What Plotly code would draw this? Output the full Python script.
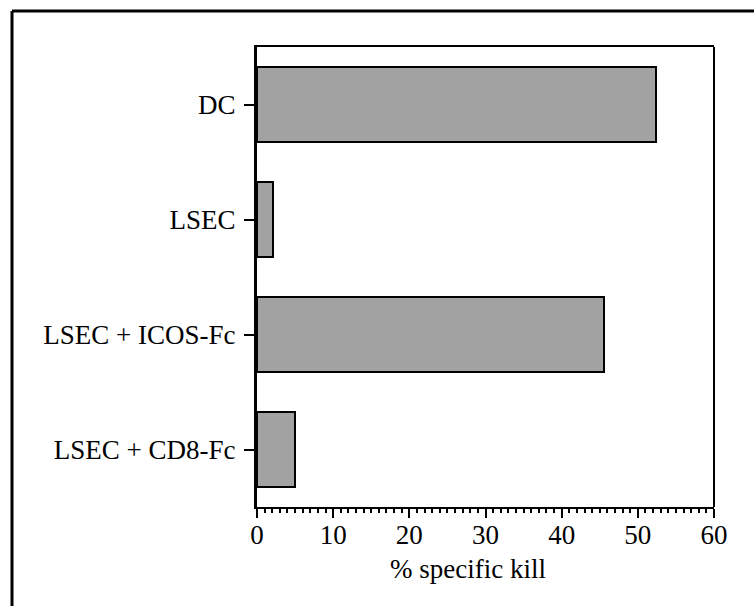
import plotly.graph_objects as go

categories = ["DC", "LSEC", "LSEC + ICOS-Fc", "LSEC + CD8-Fc"]
kill_values = [52.4, 2.1, 45.5, 5.0]
x_tick_values = [0, 10, 20, 30, 40, 50, 60]
x_title = "% specific kill"

FONT = "Liberation Serif, Times New Roman, serif"
FS = 27

fig = go.Figure(
    go.Bar(
        y=categories,
        x=kill_values,
        orientation="h",
        width=0.65,
        marker=dict(color="#a2a2a2", line=dict(color="black", width=2)),
    )
)

W, H = 754, 606
ml, mr, mt, mb = 257, 40, 47, 99
pw = W - ml - mr
ph = H - mt - mb

fig.update_layout(
    width=W,
    height=H,
    margin=dict(l=ml, r=mr, t=mt, b=mb, pad=0),
    paper_bgcolor="white",
    plot_bgcolor="white",
    showlegend=False,
    font=dict(family=FONT, size=FS, color="black"),
    bargap=0,
)

fig.update_xaxes(
    range=[0, 60],
    tickvals=x_tick_values,
    ticks="outside",
    ticklen=9,
    tickwidth=2,
    tickcolor="black",
    showline=True,
    linecolor="black",
    linewidth=2,
    mirror=True,
    showgrid=False,
    zeroline=False,
    tickfont=dict(family=FONT, size=FS, color="black"),
    ticklabelstandoff=-6,
    minor=dict(dtick=1, ticks="outside", ticklen=4, tickwidth=1.5, tickcolor="black", showgrid=False),
)

fig.update_yaxes(
    categoryorder="array",
    categoryarray=categories,
    autorange=False,
    range=[3.5, -0.5],
    ticks="outside",
    ticklen=10,
    tickwidth=2,
    tickcolor="black",
    showline=True,
    linecolor="black",
    linewidth=3,
    mirror=False,
    showgrid=False,
    zeroline=False,
    tickfont=dict(family=FONT, size=FS, color="black"),
    ticklabelstandoff=3,
)

# x-axis title as annotation (centred slightly left of plot centre, as in the reference)
fig.add_annotation(
    text=x_title, xref="paper", yref="paper",
    x=(468 - ml) / pw, y=(H - mb - 569) / ph,
    xanchor="center", yanchor="middle", showarrow=False,
    font=dict(family=FONT, size=FS, color="black"),
)

# right edge of plot box
fig.add_shape(type="line", xref="paper", yref="paper", x0=1, x1=1, y0=0, y1=1,
              line=dict(color="black", width=2))

# outer frame (left and top edges visible)
fx = (12 - ml) / pw
fy = (H - mb - 11) / ph
fig.add_shape(type="line", xref="paper", yref="paper", x0=fx, x1=fx, y0=fy, y1=-1,
              line=dict(color="black", width=3))
fig.add_shape(type="line", xref="paper", yref="paper", x0=fx, x1=2, y0=fy, y1=fy,
              line=dict(color="black", width=3))

fig.write_html("out.html")
